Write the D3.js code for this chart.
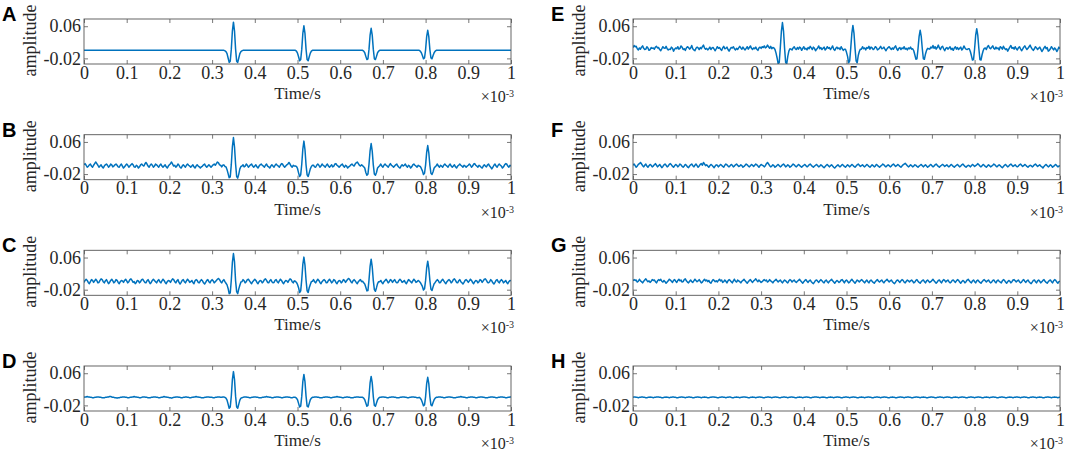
<!DOCTYPE html>
<html><head><meta charset="utf-8">
<script src="https://cdn.jsdelivr.net/npm/d3@7"></script>
<style>body{margin:0;background:#fff}svg{display:block}</style>
</head><body>
<svg id="chart" width="1065" height="455"></svg>
<script>
// ---------------- data ----------------
const panelLabels = ["A","B","C","D","E","F","G","H"];
const xTickValues = [0,0.1,0.2,0.3,0.4,0.5,0.6,0.7,0.8,0.9,1];
const xTickLabels = ["0","0.1","0.2","0.3","0.4","0.5","0.6","0.7","0.8","0.9","1"];
const yTickValues = [-0.02, 0.06];
const yTickLabels = ["-0.02","0.06"];
const xLabel = "Time/s";
const yLabel = "amplitude";
const sampleStep = 0.0025;   // time between samples, in units of 10^-3 s
const valueUnit = 0.001;     // amplitudes below are typed in thousandths

const seriesA = `
0 0 0 0 0 0 0 0 0 0 0 0 0 0 0 0 0 0 0 0
0 0 0 0 0 0 0 0 0 0 0 0 0 0 0 0 0 0 0 0
0 0 0 0 0 0 0 0 0 0 0 0 0 0 0 0 0 0 0 0
0 0 0 0 0 0 0 0 0 0 0 0 0 0 0 0 0 0 0 0
0 0 0 0 0 0 0 0 0 0 0 0 0 0 0 0 0 0 0 0
0 0 0 0 0 0 0 0 0 0 0 0 0 0 0 0 0 0 0 0
0 0 0 0 0 0 0 0 0 0 0 0 -1 -3 -8 -19 -30 -27 3 48
70 48 3 -27 -30 -19 -8 -3 -1 0 0 0 0 0 0 0 0 0 0 0
0 0 0 0 0 0 0 0 0 0 0 0 0 0 0 0 0 0 0 0
0 0 0 0 0 0 0 0 0 0 0 0 0 0 0 0 0 0 0 -2
-7 -16 -26 -23 3 42 61 42 3 -23 -26 -16 -7 -2 0 0 0 0 0 0
0 0 0 0 0 0 0 0 0 0 0 0 0 0 0 0 0 0 0 0
0 0 0 0 0 0 0 0 0 0 0 0 0 0 0 0 0 0 0 0
0 0 -2 -6 -15 -23 -21 3 38 55 38 3 -21 -23 -15 -6 -2 0 0 0
0 0 0 0 0 0 0 0 0 0 0 0 0 0 0 0 0 0 0 0
0 0 0 0 0 0 0 0 0 0 0 0 0 0 0 -2 -6 -13 -21 -19
2 34 50 34 2 -19 -21 -13 -6 -2 0 0 0 0 0 0 0 0 0 0
0 0 0 0 0 0 0 0 0 0 0 0 0 0 0 0 0 0 0 0
0 0 0 0 0 0 0 0 0 0 0 0 0 0 0 0 0 0 0 0
0 0 0 0 0 0 0 0 0 0 0 0 0 0 0 0 0 0 0 0
0`;

const seriesB = `
3 6 2 -3 -1 3 5 0 -3 2 6 10 6 2 -3 0 3 -2 -5 0
3 5 2 -3 0 5 3 -2 0 3 5 2 -2 -3 2 5 0 -5 -2 2
5 2 -3 0 3 6 3 -2 -3 2 0 -5 -2 3 5 2 0 5 9 5
0 -3 2 5 2 -3 0 5 3 0 -3 2 5 0 -3 0 3 -2 -5 0
3 6 10 5 0 2 -3 0 5 2 -3 -5 0 3 0 -3 2 5 2 0
-3 0 3 -2 -5 0 3 0 -2 -5 -2 0 3 5 0 -3 0 3 0 -3
0 3 5 2 6 10 8 3 2 -2 2 3 -1 -2 -9 -19 -29 -27 4 48
71 47 5 -26 -30 -20 -7 -1 0 3 -2 0 5 2 -3 0 3 5 0 -3
0 3 -2 -5 0 3 5 2 0 -3 2 5 0 -2 -5 0 3 0 -3 2
5 2 0 -3 2 6 5 0 -3 0 3 5 9 5 0 -3 2 0 0 -1
-6 -17 -26 -22 5 42 62 41 3 -22 -26 -17 -7 -1 2 2 -2 -3 2 5
2 -3 0 5 2 0 -3 2 5 0 -3 0 3 -2 0 5 6 2 0 -3
0 3 5 0 -3 2 0 -5 -2 0 3 5 2 0 5 8 10 6 2 0
3 1 -2 -5 -16 -23 -20 5 38 56 37 3 -20 -23 -16 -5 -2 1 5 0
-3 2 5 2 0 -3 2 6 2 0 -3 0 3 5 0 -3 -5 0 3 0
2 5 0 -3 2 0 -5 -2 3 5 2 0 -3 2 0 -1 -6 -12 -21 -18
3 34 51 33 2 -18 -21 -14 -5 -2 1 5 0 -3 2 0 -3 2 5 2
0 -3 2 5 0 -3 0 3 -2 -5 0 2 5 2 0 -3 2 0 -3 0
2 5 2 -3 0 5 6 2 0 -3 2 0 -3 -5 0 3 0 -2 3 5
0 -3 -7 -3 2 5 0 -3 2 5 2 0 -5 -2 3 6 5 0 -3 2
0`;

const seriesC = `
-2 3 6 3 -2 -5 0 5 3 -2 2 6 3 -3 -2 3 7 5 0 -3
2 5 0 -5 -2 3 6 2 -3 0 5 3 -2 -5 0 3 2 -2 3 6
2 -3 0 5 7 3 -2 0 -5 -2 3 2 -3 0 5 6 2 -2 -3 2
5 0 -5 -2 3 6 3 0 -3 2 5 0 -3 2 6 3 -2 -5 0 3
2 -2 3 7 5 0 -3 2 5 -2 -6 -2 3 5 0 -3 2 6 3 -2
0 3 -2 -5 2 5 3 -2 -3 2 5 2 -3 -6 -2 3 5 0 -3 2
5 2 -3 0 3 6 8 5 0 -3 2 5 0 -4 -8 -17 -30 -28 4 48
70 49 2 -25 -30 -18 -9 -1 0 5 2 -3 0 5 6 2 -2 -5 0 3
6 3 -2 -5 0 3 2 -3 0 5 7 3 -2 -3 2 5 0 -3 -2 3
5 0 -3 2 6 3 -2 -5 0 3 2 -2 3 7 5 0 -3 2 1 -2
-7 -15 -27 -23 5 43 61 41 4 -23 -27 -15 -7 0 1 5 0 -3 2 6
3 -2 -5 0 3 5 2 -3 -2 3 6 2 -3 0 5 3 -2 -5 0 3
2 -3 0 5 3 -2 2 6 8 5 0 -3 2 5 2 -2 -5 0 3 5
0 1 -3 -6 -14 -23 -22 5 38 56 37 3 -20 -24 -15 -5 0 0 3 -2
-5 0 3 6 2 -3 0 5 3 -2 2 5 0 -3 -2 3 6 3 -2 0
3 -2 -5 0 5 3 0 -3 2 6 3 -2 0 3 1 -2 -7 -12 -21 -18
3 34 51 33 3 -19 -22 -13 -5 -2 2 5 2 -3 -2 3 6 2 -2 -5
0 3 5 2 -3 0 5 7 3 -2 -3 2 5 0 -3 -6 -2 3 5 2
-2 2 6 3 -2 -5 0 3 2 -3 0 5 3 -2 2 6 7 3 -2 -3
0 5 2 -3 -6 -2 3 5 0 -3 2 5 2 -3 0 3 -2 -5 0 3
2`;

const seriesD = `
0 1 1 2 1 1 0 0 -1 -1 0 0 1 1 1 0 0 -1 -1 -1
0 0 1 1 2 2 1 0 0 -1 -1 -2 -1 -1 0 0 1 1 1 0
0 -1 -1 0 0 1 1 2 1 1 0 0 -1 -1 0 1 1 1 0 0
-1 -1 -1 0 0 1 1 1 0 0 -1 -1 0 0 1 2 1 1 0 0
-1 -1 -2 -1 0 0 1 1 1 0 0 -1 -1 0 0 1 1 0 0 -1
-1 0 0 1 1 2 1 1 0 0 -1 -1 -1 0 0 1 1 1 0 0
0 -1 -1 0 0 1 1 1 0 0 1 1 0 -2 -7 -17 -27 -24 3 44
64 44 3 -24 -27 -17 -7 -2 -1 0 1 1 1 0 0 -1 -1 0 0 1
1 1 0 0 -1 -1 -1 0 0 1 1 2 1 1 0 0 -1 -1 0 0
1 1 1 0 0 -1 -1 0 0 1 1 1 0 0 -1 -1 0 0 0 -2
-6 -15 -24 -22 3 39 57 39 3 -22 -24 -15 -6 -2 0 0 1 1 1 0
0 -1 -1 -1 0 0 1 1 1 0 0 -1 -1 0 0 1 1 2 1 1
0 0 -1 -1 0 0 1 1 0 0 -1 -1 -1 0 0 1 1 1 0 0
0 0 -2 -6 -14 -22 -20 2 36 52 36 2 -20 -22 -14 -6 -2 0 0 1
1 1 0 0 -1 -1 0 0 1 1 1 0 0 -1 -1 -1 0 0 1 1
1 0 0 -1 -1 0 0 1 1 1 0 0 -1 -1 0 -2 -6 -13 -21 -19
2 34 50 34 2 -19 -21 -13 -6 -2 0 0 1 1 1 0 0 -1 -1 0
0 1 1 1 0 0 -1 -1 -1 0 0 1 1 2 1 1 0 0 -1 -1
0 0 1 1 1 0 0 -1 -1 0 0 1 1 1 0 0 -1 -1 -1 0
0 1 1 1 0 0 -1 -1 0 0 1 1 1 0 0 -1 -1 0 0 1
1`;

const seriesE = `
7 12 9 10 4 1 6 3 8 11 5 2 3 9 6 0 2 7 5 6
3 8 10 6 7 2 -1 4 9 6 5 10 4 1 3 2 8 5 -2 3
6 4 9 3 5 11 8 2 4 0 6 9 7 3 6 12 4 1 -1 5
8 6 2 7 4 9 13 6 3 5 1 4 8 2 6 7 3 -1 4 9
5 7 3 0 6 10 4 5 8 2 -2 3 7 6 9 4 1 5 2 6
10 6 3 8 4 1 5 9 3 7 11 5 2 6 4 8 3 0 6 8
5 9 7 11 6 8 13 9 5 10 4 7 6 2 -7 -19 -34 -30 7 47
69 48 5 -30 -34 -15 -2 4 3 1 6 9 4 2 7 3 8 6 0 5
9 3 5 1 7 4 10 6 2 8 5 -1 3 6 11 4 7 2 5 8
1 4 9 5 7 2 6 11 3 0 5 8 4 6 2 9 4 0 3 3
-5 -15 -31 -26 6 42 62 43 5 -26 -31 -13 -3 3 3 9 4 6 1 7
5 10 3 8 6 2 4 9 7 1 3 6 10 4 5 8 3 -1 4 7
9 5 2 6 3 8 11 4 0 5 7 2 6 4 9 3 5 1 6 4
8 3 4 -1 -11 -22 -21 4 34 50 35 4 -21 -22 -9 0 5 4 3 8
6 12 5 9 3 7 13 6 2 8 10 4 -1 5 7 3 6 9 2 5
0 6 9 3 7 2 5 8 1 4 11 6 3 2 4 4 -3 -13 -24 -23
4 37 54 37 4 -23 -24 -11 -1 5 6 2 9 12 6 4 8 11 5 3
8 4 6 1 9 7 3 10 5 2 4 -2 3 8 12 5 7 3 9 4
1 6 9 4 -1 3 8 11 6 2 5 9 13 7 3 0 4 9 6 2
5 8 3 -3 1 6 10 4 7 -2 0 4 9 5 1 6 3 -3 2 8
4`;

const seriesF = `
2 5 1 -3 0 4 6 9 5 1 -2 2 5 0 -3 1 4 2 -2 0
3 6 2 -2 1 4 0 -4 -1 3 5 2 -2 0 4 6 3 -1 -3 1
4 2 -2 1 5 3 -1 -3 0 4 2 -2 -4 0 3 5 1 -2 2 5
1 -3 0 4 6 2 9 5 1 3 0 -3 1 4 2 -1 -4 0 3 2
-2 1 4 2 -1 -3 2 5 3 0 -2 1 4 2 -2 0 3 5 2 -1
0 3 1 -3 -1 2 5 3 0 -2 1 4 2 -1 2 5 3 0 -3 1
4 2 1 -2 1 6 9 5 1 -2 0 3 1 -3 -1 2 4 1 -2 0
3 5 2 -2 0 3 1 -3 -1 2 5 3 0 -2 1 4 2 -1 -3 0
2 4 1 -2 0 3 5 2 -1 -3 0 2 4 1 -2 0 3 1 -2 -4
-1 2 4 1 -2 1 3 0 -3 -5 -2 1 3 0 -2 1 4 2 -1 -3
0 3 1 -2 1 4 2 -1 -3 0 3 5 2 -1 1 3 0 -2 1 4
2 -1 -3 0 3 1 -2 0 4 2 -1 -3 0 2 5 3 0 -2 1 3
1 -2 0 3 5 2 -1 1 4 2 -1 -3 0 3 5 7 4 1 -2 0
3 1 -2 0 3 2 -1 -3 0 2 4 1 -2 1 3 0 -3 -1 2 4
1 -2 0 3 5 2 -1 -3 0 2 4 2 -1 1 3 0 -2 1 4 2
-1 -3 0 2 4 1 -2 0 3 5 2 -1 -3 0 2 1 -2 1 4 2
-1 1 3 6 3 0 -2 1 4 2 -1 -3 0 3 1 -2 0 2 5 3
0 -2 1 3 1 -2 -4 -1 2 4 1 -2 0 3 5 2 -1 1 3 0
-2 0 3 5 2 -1 1 4 2 -1 -3 0 2 1 -2 0 3 5 2 -1
1 3 0 -2 -5 -1 2 4 1 -2 0 3 1 -3 -1 2 4 1 -2 0
1`;

const seriesG = `
2 5 3 4 -1 1 6 2 0 -3 1 4 7 3 0 2 -2 1 5 3
4 0 -3 2 5 3 6 1 -1 3 0 -4 -1 2 6 4 1 -2 3 5
1 -2 3 6 2 4 -1 0 5 7 2 -1 -3 1 4 0 -2 2 6 3
0 2 5 1 -3 -1 3 6 2 4 0 3 -2 -4 1 5 3 0 2 -1
3 6 2 4 -2 0 4 1 -3 2 5 3 0 -3 2 6 1 -1 4 2
0 -3 1 3 6 2 -1 -4 0 3 5 1 -2 2 4 7 3 0 4 1
-2 0 3 5 2 4 -1 1 5 2 0 -3 1 3 6 2 -1 2 4 0
-3 1 4 2 -1 -3 2 5 3 -1 2 4 0 -2 1 3 6 2 -1 -4
0 3 5 1 -2 2 4 0 -3 -5 -1 3 4 1 -2 2 5 2 -1 -3
2 4 0 -3 1 3 6 2 -1 -4 0 3 1 -2 0 4 5 1 -3 2
4 1 -3 -1 3 6 2 -1 -4 0 4 2 -1 2 5 3 0 -3 1 4
0 -3 2 4 1 -2 -4 0 3 5 1 -1 2 4 0 -3 1 3 6 2
-1 2 4 0 -3 -5 -1 3 4 1 -2 2 5 3 -1 -3 1 4 2 -1
2 4 1 -3 -1 3 5 1 -2 -4 0 3 4 0 -3 2 4 1 -2 0
3 6 2 -1 -4 -1 3 4 0 -3 2 5 3 -1 2 4 0 -3 -1 3
4 1 -2 2 5 3 -1 -4 0 3 1 -3 0 4 6 2 -1 -3 2 4
0 -3 2 4 1 -2 -4 0 3 5 2 -1 2 4 0 -3 -1 3 4 0
-3 2 4 1 -1 -3 2 5 3 -1 -4 0 3 1 -3 0 4 5 2 -1
2 4 0 -3 -1 3 5 1 -2 2 4 0 -3 -5 -1 3 4 0 -3 2
4 1 -3 0 3 5 1 -2 -4 0 3 4 0 -3 2 5 3 -1 -4 0
1`;

const seriesH = `
0 1 1 0 0 -1 0 0 1 1 0 0 -1 -1 0 0 1 0 0 -1
0 0 1 1 1 0 0 -1 -1 0 0 1 0 0 -1 0 0 1 1 0
0 -1 -1 0 0 1 1 0 0 -1 0 0 1 1 0 0 -1 -1 0 0
1 1 0 0 -1 0 0 1 0 0 -1 -1 0 0 1 1 1 0 0 -1
-1 0 0 1 1 0 0 -1 0 0 1 1 0 -1 -1 0 0 1 0 0
-1 0 0 1 1 1 0 0 -1 -1 0 0 1 0 0 -1 0 0 1 1
0 0 -1 -1 0 0 1 1 0 0 -1 0 0 1 1 0 0 -1 -1 0
0 1 1 0 0 -1 0 0 1 1 0 0 -1 -1 0 0 1 0 0 -1
0 0 1 1 0 0 -1 -1 0 0 1 1 1 0 0 -1 0 0 1 0
0 -1 -1 0 0 1 0 0 -1 0 0 1 1 0 0 -1 -1 0 0 1
1 0 0 -1 0 0 1 1 0 0 -1 -1 0 0 1 0 0 -1 0 0
1 1 0 0 -1 -1 0 0 1 1 0 0 -1 0 0 1 1 0 0 -1
-1 0 0 1 0 0 -1 -1 0 0 1 1 0 0 -1 0 0 1 1 0
0 -1 -1 0 0 1 1 0 0 -1 0 0 1 0 0 -1 -1 0 0 1
1 0 0 -1 -1 0 0 1 1 0 0 -1 0 0 1 1 0 0 -1 -1
0 0 1 0 0 -1 0 0 1 1 0 0 -1 -1 0 0 1 1 0 0
-1 0 0 1 1 0 0 -1 -1 0 0 1 0 0 -1 0 0 1 1 0
0 -1 -1 0 0 1 1 0 0 -1 -1 0 0 1 0 0 -1 0 0 1
1 0 0 -1 0 0 1 1 0 0 -1 -1 0 0 1 1 0 0 -1 0
0 1 0 0 -1 -1 0 0 1 1 0 0 -1 0 0 1 0 0 -1 0
0`;

const seriesList = [seriesA, seriesB, seriesC, seriesD, seriesE, seriesF, seriesG, seriesH];

// ---------------- layout ----------------
const colX = [84, 633];
const rowY = [19, 134.7, 250.3, 366];
const plotW = 427, plotH = 45;
const yDomain = [-0.034, 0.078];
const serif = "'Liberation Serif','Times New Roman',Times,serif";
const sans = "'Liberation Sans',Arial,Helvetica,sans-serif";
const lineColor = "#0072BD";
const axisColor = "#555";
const textColor = "#262626";

const parse = s => s.trim().split(/\s+/).map(Number);

const svg = d3.select("#chart");
svg.append("rect").attr("width",1065).attr("height",455).attr("fill","#fff");

const x = d3.scaleLinear().domain([0,1]).range([0,plotW]);
const y = d3.scaleLinear().domain(yDomain).range([plotH,0]);

seriesList.forEach((src, k) => {
  const col = Math.floor(k/4), row = k % 4;
  const g = svg.append("g").attr("transform", `translate(${colX[col]},${rowY[row]})`);
  const vals = parse(src);
  const clipId = "clip" + k;
  g.append("clipPath").attr("id", clipId).append("rect")
    .attr("x",0).attr("y",0).attr("width",plotW).attr("height",plotH);

  const line = d3.line()
    .x((d,i) => x(i*sampleStep))
    .y(d => y(d*valueUnit));
  g.append("path").datum(vals)
    .attr("clip-path", `url(#${clipId})`)
    .attr("d", line)
    .attr("fill","none").attr("stroke",lineColor)
    .attr("stroke-width",1.5).attr("stroke-linejoin","round");

  const styleAxis = sel => {
    sel.select(".domain").remove();
    sel.selectAll(".tick line").attr("stroke",axisColor).attr("stroke-width",0.8);
    sel.selectAll(".tick text").attr("fill",textColor)
      .attr("font-family",serif).attr("font-size",18);
    sel.attr("font-family",serif).attr("font-size",18);
  };

  g.append("g").attr("transform",`translate(0,${plotH})`)
    .call(d3.axisBottom(x).tickValues(xTickValues)
      .tickFormat((d,i)=>xTickLabels[i]).tickSize(-4).tickSizeOuter(0).tickPadding(2))
    .call(styleAxis);
  g.append("g")
    .call(d3.axisTop(x).tickValues(xTickValues).tickFormat("").tickSize(-4).tickSizeOuter(0))
    .call(styleAxis);
  g.append("g")
    .call(d3.axisLeft(y).tickValues(yTickValues)
      .tickFormat((d,i)=>yTickLabels[i]).tickSize(-4).tickSizeOuter(0).tickPadding(3))
    .call(styleAxis);
  g.append("g").attr("transform",`translate(${plotW},0)`)
    .call(d3.axisRight(y).tickValues(yTickValues).tickFormat("").tickSize(-4).tickSizeOuter(0))
    .call(styleAxis);

  g.append("rect").attr("width",plotW).attr("height",plotH)
    .attr("fill","none").attr("stroke",axisColor).attr("stroke-width",0.9);

  g.append("text").attr("x",plotW/2).attr("y",plotH+35)
    .attr("text-anchor","middle").attr("font-family",serif).attr("font-size",17)
    .attr("fill",textColor).text(xLabel);

  const sci = g.append("text").attr("x",plotW+3).attr("y",plotH+38)
    .attr("text-anchor","end").attr("font-family",serif).attr("font-size",16)
    .attr("fill",textColor);
  sci.append("tspan").text("\u00d710");
  sci.append("tspan").attr("font-size",10).attr("dy",-5).text("-3");

  g.append("text")
    .attr("transform",`translate(-48,${plotH/2 - 1}) rotate(-90)`)
    .attr("text-anchor","middle").attr("font-family",serif).attr("font-size",18)
    .attr("fill",textColor).text(yLabel);

  g.append("text").attr("x",-82).attr("y",2)
    .attr("font-family",sans).attr("font-weight","bold").attr("font-size",20)
    .attr("fill","#000").text(panelLabels[k]);
});
</script>
</body></html>
